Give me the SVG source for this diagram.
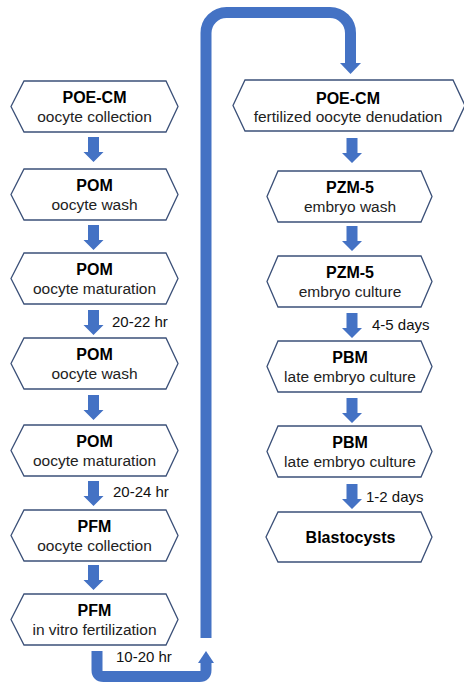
<svg xmlns="http://www.w3.org/2000/svg" width="464" height="683" viewBox="0 0 464 683">
<defs>
<style>
.hex{fill:#ffffff;stroke:#3B5078;stroke-width:1.3;stroke-linejoin:miter}
.b{font-family:"Liberation Sans",Arial,sans-serif;font-weight:bold;font-size:16px;fill:#000;text-anchor:middle}
.r{font-family:"Liberation Sans",Arial,sans-serif;font-size:15.5px;fill:#222;text-anchor:middle}
.lbl{font-family:"Liberation Sans",Arial,sans-serif;font-size:15px;fill:#111}
.arr{fill:#4472C4}
.line{fill:none;stroke:#4472C4;stroke-width:11}
</style>
<path id="downL" d="M-5.5,0 H5.5 V15 H10 L0,25 L-10,15 H-5.5 Z"/>
</defs>
<rect width="464" height="683" fill="#ffffff"/>

<g id="connectors">
<use href="#downL" class="arr" x="93.5" y="137"/>
<use href="#downL" class="arr" x="93.5" y="225"/>
<use href="#downL" class="arr" x="93.5" y="310"/>
<use href="#downL" class="arr" x="93.5" y="395"/>
<use href="#downL" class="arr" x="93.5" y="481"/>
<use href="#downL" class="arr" x="93.5" y="565"/>
<use href="#downL" class="arr" x="352" y="138"/>
<use href="#downL" class="arr" x="352" y="226"/>
<use href="#downL" class="arr" x="352" y="313"/>
<use href="#downL" class="arr" x="352" y="398"/>
<use href="#downL" class="arr" x="352" y="484"/>
<path class="line" d="M97,651 V670 Q97,676.5 103.5,676.5 H199.5 Q206,676.5 206,670 V662"/>
<polygon class="arr" points="198,663 214,663 206,651"/>
<path class="line" d="M206,638 V33 A20.5,20.5 0 0 1 226.5,12.5 H330 A20.5,20.5 0 0 1 350.5,33 V64"/>
<polygon class="arr" points="340,63 361,63 350.5,74"/>
<text class="lbl" x="112" y="327">20-22 hr</text>
<text class="lbl" x="113" y="497">20-24 hr</text>
<text class="lbl" x="116" y="662">10-20 hr</text>
<text class="lbl" x="372" y="330">4-5 days</text>
<text class="lbl" x="366" y="502">1-2 days</text>
</g>

<g id="n1">
<polygon class="hex" points="11,106.5 24,81 166,81 178,106.5 166,132 24,132"/>
<text class="b" x="94.5" y="102.5">POE-CM</text>
<text class="r" x="94.5" y="121.5">oocyte collection</text>
</g>
<g id="n2">
<polygon class="hex" points="11,194.5 24,169 166,169 178,194.5 166,220 24,220"/>
<text class="b" x="94.5" y="191">POM</text>
<text class="r" x="94.5" y="209.5">oocyte wash</text>
</g>
<g id="n3">
<polygon class="hex" points="11,278.5 24,253 166,253 178,278.5 166,304 24,304"/>
<text class="b" x="94.5" y="274.5">POM</text>
<text class="r" x="94.5" y="293.5">oocyte maturation</text>
</g>
<g id="n4">
<polygon class="hex" points="11,363.5 24,338 166,338 178,363.5 166,389 24,389"/>
<text class="b" x="94.5" y="359.5">POM</text>
<text class="r" x="94.5" y="378.5">oocyte wash</text>
</g>
<g id="n5">
<polygon class="hex" points="11,450.5 24,425 166,425 178,450.5 166,476 24,476"/>
<text class="b" x="94.5" y="446.5">POM</text>
<text class="r" x="94.5" y="465.5">oocyte maturation</text>
</g>
<g id="n6">
<polygon class="hex" points="11,535.5 24,510 166,510 178,535.5 166,561 24,561"/>
<text class="b" x="94.5" y="531.5">PFM</text>
<text class="r" x="94.5" y="550.5">oocyte collection</text>
</g>
<g id="n7">
<polygon class="hex" points="11,619.5 24,594 166,594 178,619.5 166,645 24,645"/>
<text class="b" x="94.5" y="615.5">PFM</text>
<text class="r" x="94.5" y="634.5">in vitro fertilization</text>
</g>

<g id="n8">
<polygon class="hex" points="233,105.5 245,80 453,80 465,105.5 453,131 245,131"/>
<text class="b" x="348" y="103.5">POE-CM</text>
<text class="r" x="348" y="122">fertilized oocyte denudation</text>
</g>
<g id="n9">
<polygon class="hex" points="267,196.5 278,171 421,171 432,196.5 421,222 278,222"/>
<text class="b" x="350" y="192.5">PZM-5</text>
<text class="r" x="350" y="211.5">embryo wash</text>
</g>
<g id="n10">
<polygon class="hex" points="267,281.5 278,256 421,256 432,281.5 421,307 278,307"/>
<text class="b" x="350" y="277.5">PZM-5</text>
<text class="r" x="350" y="296.5">embryo culture</text>
</g>
<g id="n11">
<polygon class="hex" points="267,366.5 278,341 421,341 432,366.5 421,392 278,392"/>
<text class="b" x="350" y="362.5">PBM</text>
<text class="r" x="350" y="381.5">late embryo culture</text>
</g>
<g id="n12">
<polygon class="hex" points="267,451.5 278,426 421,426 432,451.5 421,477 278,477"/>
<text class="b" x="350" y="447.5">PBM</text>
<text class="r" x="350" y="466.5">late embryo culture</text>
</g>
<g id="n13">
<polygon class="hex" points="266,537 278,512 421,512 432,537 421,562 278,562"/>
<text class="b" x="350.5" y="543">Blastocysts</text>
</g>
</svg>
